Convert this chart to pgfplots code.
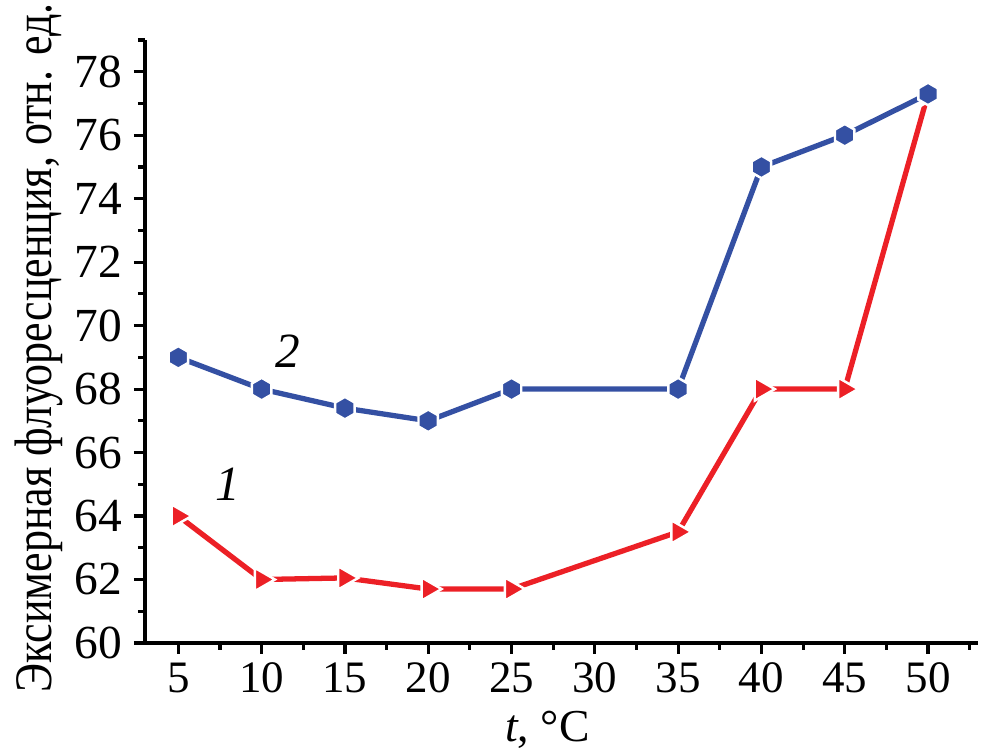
\documentclass[border=0pt]{standalone}
\usepackage{fontspec}
\setmainfont{Liberation Serif}
\newfontfamily\condfont[FakeStretch=0.835]{Liberation Serif}
\usepackage{pgfplots}
\pgfplotsset{compat=1.18}

\definecolor{cred}{RGB}{236,32,38}
\definecolor{cblue}{RGB}{52,80,163}

% hexagon mark with pointed top
\pgfdeclareplotmark{hexagon*}{%
  \pgfpathmoveto{\pgfpointpolar{90}{\pgfplotmarksize}}%
  \pgfpathlineto{\pgfpointpolar{150}{\pgfplotmarksize}}%
  \pgfpathlineto{\pgfpointpolar{210}{\pgfplotmarksize}}%
  \pgfpathlineto{\pgfpointpolar{270}{\pgfplotmarksize}}%
  \pgfpathlineto{\pgfpointpolar{330}{\pgfplotmarksize}}%
  \pgfpathlineto{\pgfpointpolar{30}{\pgfplotmarksize}}%
  \pgfpathclose
  \pgfusepathqfillstroke}

\begin{document}
\begin{tikzpicture}
\useasboundingbox (-1.45,-1.11) rectangle (8.59,6.43);
\begin{axis}[
    scale only axis,
    width=8.33cm, height=6.03cm,
    xmin=-0.4, xmax=9.6,
    ymin=60, ymax=79,
    axis x line*=bottom,
    axis y line*=left,
    axis line style={line width=0.9pt},
    tick align=outside,
    tick style={line width=0.9pt, black},
    major tick length=0.11cm,
    minor tick length=0.07cm,
    xtick={0,...,9},
    xticklabels={5,10,15,20,25,30,35,40,45,50},
    minor xtick={0.5,1.5,...,9.5},
    ytick={60,62,...,78},
    minor ytick={61,63,...,79},
    /pgf/number format/assume math mode=true,
    xticklabel style={font=\fontsize{12.8}{15}\selectfont, yshift=1pt},
    yticklabel style={font=\fontsize{13.5}{15}\selectfont, xshift=0.2pt},
    xlabel={\textit{t}, °C},
    ylabel={Эксимерная флуоресценция, отн. ед.},
    xlabel style={font=\fontsize{13}{15}\selectfont,
      at={(axis description cs:0.483,-0.164)}, anchor=base},
    ylabel style={font=\fontsize{15}{17}\condfont,
      at={(axis description cs:-0.112,0.489)}, anchor=base},
    clip=false,
]
% curve 1
\addplot[color=cred, line width=1.5pt, mark=triangle*, mark size=3.8pt,
  mark options={rotate=-90, fill=cred, draw=white, line width=0.7pt}] coordinates {
  (0,64.0) (1,62.0) (2,62.05) (3,61.7) (4,61.7)
  (6,63.5) (7,68.0) (8,68.0) (9,77.3)
};
% curve 2
\addplot[color=cblue, line width=1.5pt, mark=hexagon*, mark size=3.2pt,
  mark options={fill=cblue, draw=white, line width=0.7pt}] coordinates {
  (0,69.0) (1,68.0) (2,67.4) (3,67.0) (4,68.0)
  (6,68.0) (7,75.0) (8,76.0) (9,77.3)
};
\node[font=\fontsize{14}{16}\selectfont\itshape] at (axis cs:0.6,65.0) {1};
\node[font=\fontsize{14}{16}\selectfont\itshape] at (axis cs:1.32,69.2) {2};
\end{axis}
\end{tikzpicture}
\end{document}
